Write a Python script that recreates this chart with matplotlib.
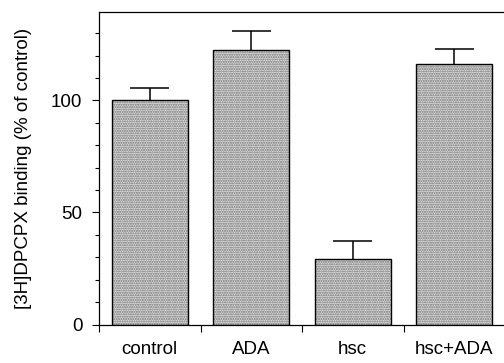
import numpy as np
import matplotlib.pyplot as plt

plt.rcParams['font.family'] = ['Liberation Sans', 'DejaVu Sans']

groups = ['control', 'ADA', 'hsc', 'hsc+ADA']
binding = [100, 122.6, 29.2, 116.4]
sem = [5.6, 8.6, 8.0, 6.4]

fig = plt.figure(figsize=(5.04, 3.63), dpi=100)
ax = fig.add_axes([99 / 504, 1 - 324.5 / 363, 406 / 504, 312.5 / 363])

pos = np.arange(len(groups)) + 0.5
tops = np.array(binding) + np.array(sem)
# dotted grey fill
ax.bar(pos, binding, width=0.75, color='#dcdcdc', edgecolor='#707070',
       linewidth=0, hatch='.......', zorder=2)
ax.bar(pos, binding, width=0.75, fill=False, edgecolor='black', linewidth=1.0, zorder=3)
# upper error bars only
ax.vlines(pos, binding, tops, color='black', linewidth=1.1, zorder=4)
ax.hlines(tops, pos - 0.19, pos + 0.19, color='black', linewidth=1.1, zorder=4)

ax.set_xlim(0, 4)
ax.set_ylim(0, 139.5)
ax.set_yticks([0, 50, 100])
ax.set_yticks(np.arange(10, 140, 10), minor=True)
ax.tick_params(axis='y', which='major', length=5, width=0.8, labelsize=13.5, pad=7)
ax.tick_params(axis='y', which='minor', length=3, width=0.8)

ax.set_xticks([0, 1, 2, 3])
ax.set_xticklabels([])
ax.set_xticks(pos, minor=True)
ax.set_xticklabels(groups, minor=True)
ax.tick_params(axis='x', which='major', length=5, width=0.8)
ax.tick_params(axis='x', which='minor', length=0, labelsize=13.5, pad=12)

ax.spines['right'].set_visible(False)
for s in ['left', 'bottom', 'top']:
    ax.spines[s].set_linewidth(0.9)

ax.set_ylabel('[3H]DPCPX binding (% of control)', fontsize=13.5, labelpad=14)

fig.savefig('out.png', dpi=100)
